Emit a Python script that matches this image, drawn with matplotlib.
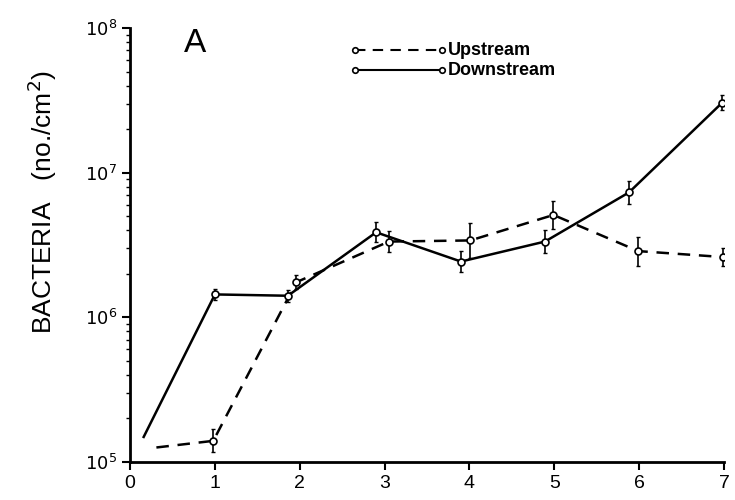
import numpy as np
import matplotlib.pyplot as plt
from matplotlib.ticker import LogLocator, NullFormatter

plt.rcParams["font.family"] = ["Liberation Sans", "DejaVu Sans"]

# sampling sites (x) and bacterial counts (no./cm^2)
up_x = [0.98, 1.96, 3.05, 4.01, 4.99, 5.99, 6.99]
up_y = [1.40e5, 1.75e6, 3.34e6, 3.40e6, 5.1e6, 2.87e6, 2.61e6]
up_err = [0.08, 0.05, 0.07, 0.12, 0.10, 0.10, 0.06]  # in decades

down_x = [1.00, 1.86, 2.90, 3.90, 4.89, 5.88, 6.98]
down_y = [1.44e6, 1.41e6, 3.87e6, 2.43e6, 3.34e6, 7.3e6, 3.05e7]
down_err = [0.04, 0.04, 0.07, 0.07, 0.08, 0.08, 0.05]

# lines start just off the axis, without a marker
up_start = (0.31, 1.26e5)
down_start = (0.16, 1.49e5)


def log_err(y, e):
    y = np.asarray(y)
    e = np.asarray(e)
    return [y - y / 10**e, y * 10**e - y]


fig = plt.figure(figsize=(7.35, 5.0), dpi=100)
ax = fig.add_axes([0.177, 0.076, 0.808, 0.868])

line_opts = {"color": "k", "lw": 1.8}
mark_opts = {"marker": "o", "ms": 5, "mfc": "white", "mec": "k", "mew": 1.2}

ax.plot([up_start[0]] + up_x, [up_start[1]] + up_y, ls=(0, (5, 3.5)),
        **line_opts)
ax.plot([down_start[0]] + down_x, [down_start[1]] + down_y, ls="-",
        **line_opts)

ax.errorbar(up_x, up_y, yerr=log_err(up_y, up_err), fmt="none",
            ecolor="k", elinewidth=1.2, capsize=1.5, capthick=1.0)
ax.errorbar(down_x, down_y, yerr=log_err(down_y, down_err), fmt="none",
            ecolor="k", elinewidth=1.2, capsize=1.5, capthick=1.0)
ax.plot(up_x, up_y, ls="none", **mark_opts, zorder=4)
ax.plot(down_x, down_y, ls="none", **mark_opts, zorder=4)

ax.set_yscale("log")
ax.set_xlim(0, 7)
ax.set_ylim(1e5, 1e8)
ax.set_xticks(range(8))
ax.set_yticks([1e5, 1e6, 1e7, 1e8])
ax.set_yticklabels([r"$10^5$", r"$10^6$", r"$10^7$", r"$10^8$"])
ax.yaxis.set_minor_locator(LogLocator(base=10, subs=np.arange(2, 10)))
ax.yaxis.set_minor_formatter(NullFormatter())

for side in ["top", "right"]:
    ax.spines[side].set_visible(False)
for side in ["left", "bottom"]:
    ax.spines[side].set_linewidth(2.0)

ax.tick_params(axis="both", which="major", direction="out", length=6,
               width=1.5, labelsize=13)
ax.tick_params(axis="x", which="major", labelsize=14)
ax.tick_params(axis="y", which="minor", direction="out", length=3,
               width=1.0)

ax.set_ylabel("BACTERIA   (no./cm$^2$)", fontsize=19)
ax.yaxis.set_label_coords(-0.12, 0.6)

ax.text(0.11, 0.965, "A", transform=ax.transAxes, fontsize=24,
        ha="center", va="center")

# hand-drawn style key
leg_x0, leg_x1 = 2.65, 3.68
for ly, ls, label in [(0.949, (0, (5, 3.5)), "Upstream"),
                      (0.903, "-", "Downstream")]:
    ax.plot([leg_x0, leg_x1], [10**(5 + 3 * ly)] * 2, ls=ls, color="k",
            lw=1.5)
    ax.plot([leg_x0, leg_x1], [10**(5 + 3 * ly)] * 2, ls="none",
            marker="o", ms=4, mfc="white", mec="k", mew=1.2)
    ax.text(leg_x1 + 0.06, 10**(5 + 3 * ly), label, fontsize=13,
            fontweight="bold", va="center", ha="left")

fig.savefig("out.png", dpi=100)
